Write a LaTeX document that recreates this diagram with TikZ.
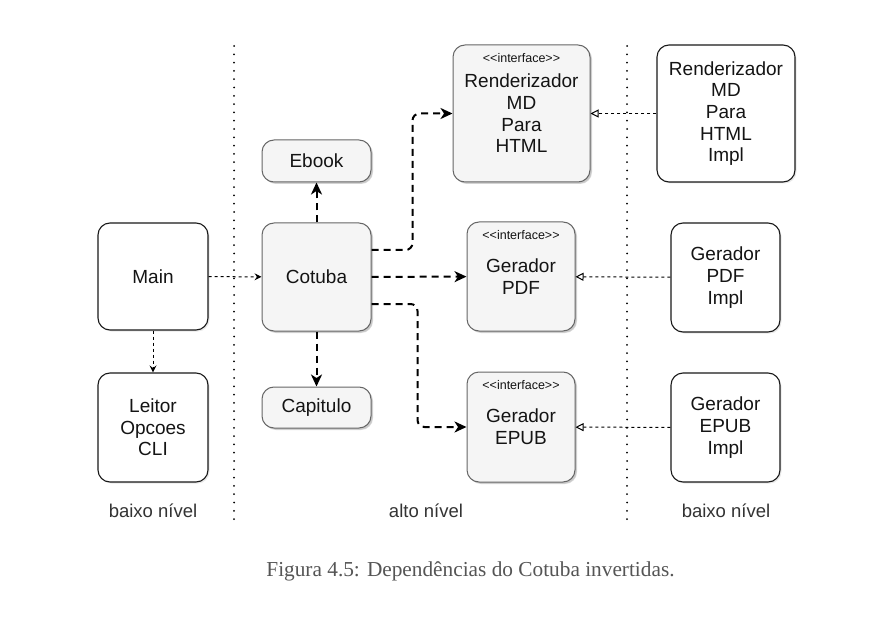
\documentclass[tikz,border=0pt]{standalone}
\usepackage{fontspec}
\setmainfont{Liberation Sans}
\newfontfamily\capfont{Liberation Serif}
\usetikzlibrary{arrows.meta,shadows}
\definecolor{boxgray}{HTML}{F5F5F5}
\definecolor{bordergray}{HTML}{666666}
\definecolor{txt}{HTML}{141414}
\definecolor{lbl}{HTML}{333333}
\definecolor{capgray}{HTML}{555555}
\tikzset{
  wbox/.style={draw=black!90, line width=1.1pt, fill=white, rounded corners=12pt,
    align=center, inner sep=0pt, text=txt,
    font=\fontsize{19}{21.7}\selectfont,
    drop shadow={shadow xshift=1.5pt, shadow yshift=-1.5pt, opacity=0.18}},
  gbox/.style={wbox, draw=bordergray, line width=1pt, fill=boxgray,
    drop shadow={shadow xshift=2pt, shadow yshift=-2pt, opacity=0.3}},
  iface/.style={font=\fontsize{12.5}{14}\selectfont, text=txt, inner sep=0pt},
  lvl/.style={font=\fontsize{18.5}{21.7}\selectfont, text=lbl, inner sep=0pt},
  divider/.style={line width=2pt, line cap=round, dash pattern=on 0pt off 8.3pt, draw=black},
  thinarrow/.style={line width=1pt, dash pattern=on 3pt off 3pt, draw=black,
    -{Stealth[length=7pt, width=7pt, inset=2.5pt]}},
  thickarrow/.style={line width=2pt, dash pattern=on 7pt off 5pt, draw=black,
    -{Stealth[length=12pt, width=11pt, inset=3.5pt]}},
  implarrow/.style={line width=1pt, dash pattern=on 3pt off 3pt, draw=black,
    -{Triangle[open, length=8pt, width=8pt, line width=1pt]}},
}
\begin{document}
\begin{tikzpicture}[x=1pt, y=-1pt]
\useasboundingbox (0,0) rectangle (888,628);
\fill[white] (0,0) rectangle (888,628);

% dividers
\coordinate (d1t) at (234,46);
\coordinate (d1b) at (234,522);
\coordinate (d2t) at (627,46);
\coordinate (d2b) at (627,522);
\draw[divider] (d1t) -- (d1b);
\draw[divider] (d2t) -- (d2b);

% left column
\node[wbox, minimum width=110pt, minimum height=107pt] (main) at (153,276.5) {Main};
\node[wbox, minimum width=110pt, minimum height=109pt] (leitor) at (153,427.5) {Leitor\\Opcoes\\CLI};

% middle column
\node[gbox, minimum width=109pt, minimum height=108pt] (cot) at (316.5,277) {Cotuba};
\node[gbox, minimum width=109pt, minimum height=42pt] (ebook) at (316.5,161) {Ebook};
\node[gbox, minimum width=109pt, minimum height=41pt] (cap) at (316.5,407.5) {Capitulo};

% interfaces
\node[gbox, minimum width=137pt, minimum height=137pt] (rend) at (521.5,113.5) {Renderizador\\MD\\Para\\HTML};
\node[gbox, minimum width=108pt, minimum height=109pt] (gpdf) at (521,276.5) {Gerador\\PDF};
\node[gbox, minimum width=108pt, minimum height=110pt] (gepub) at (521,427) {Gerador\\EPUB};
\node[iface] (rendl) at ([yshift=-14pt]rend.north) {{<}{<}interface{>}{>}};
\node[iface] (gpdfl) at ([yshift=-14pt]gpdf.north) {{<}{<}interface{>}{>}};
\node[iface] (gepubl) at ([yshift=-14pt]gepub.north) {{<}{<}interface{>}{>}};

% implementations
\node[wbox, minimum width=138pt, minimum height=137pt] (rendi) at (726,113.5) {Renderizador\\MD\\Para\\HTML\\Impl};
\node[wbox, minimum width=109pt, minimum height=109pt] (gpdfi) at (725.5,277.5) {Gerador\\PDF\\Impl};
\node[wbox, minimum width=109pt, minimum height=109pt] (gepubi) at (725.5,427.5) {Gerador\\EPUB\\Impl};

% level labels
\node[lvl] (lvl1) at (153,511) {baixo nível};
\node[lvl] (lvl2) at (426,511) {alto nível};
\node[lvl] (lvl3) at (726,511) {baixo nível};

% caption
\node[font=\capfont\fontsize{21.3}{24}\selectfont, text=capgray, inner sep=0pt] (caption) at (470.5,571) {Figura 4.5: Dependências do Cotuba invertidas.};

% connectors
\draw[thinarrow] (main) -- (cot);
\draw[thinarrow] (main) -- (leitor);
\draw[thickarrow] (cot) -- (ebook);
\draw[thickarrow] (cot) -- (cap);
\draw[thickarrow] (cot) -- (gpdf);
\draw[thickarrow, rounded corners=7pt] ([yshift=27pt]cot.east) -- ++(41,0) |- (rend.west);
\draw[thickarrow, rounded corners=7pt] ([yshift=-27pt]cot.east) -- ++(46,0) |- (gepub.west);
\draw[implarrow] (rendi) -- (rend);
\draw[implarrow] (gpdfi) -- (gpdf);
\draw[implarrow] (gepubi) -- (gepub);
\end{tikzpicture}
\end{document}
